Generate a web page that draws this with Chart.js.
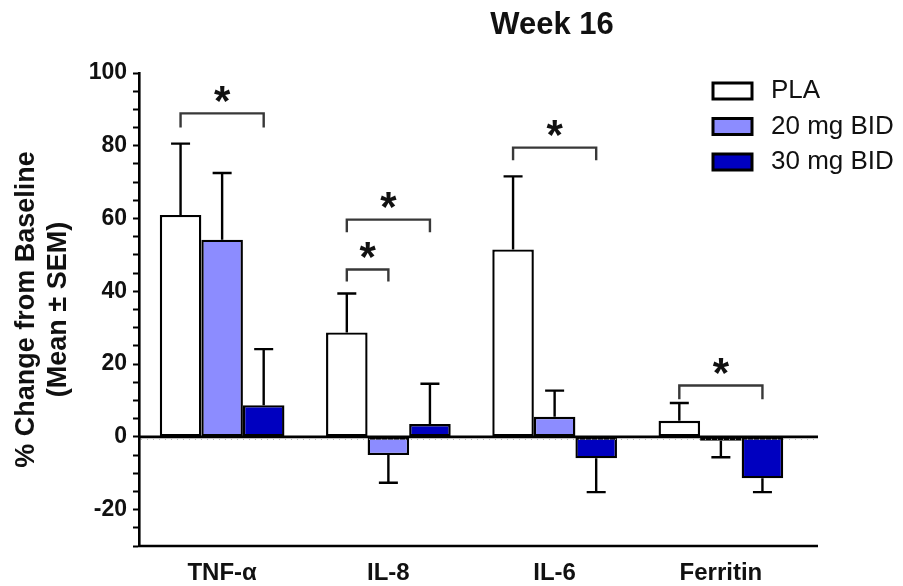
<!DOCTYPE html>
<html>
<head>
<meta charset="utf-8">
<script src="https://cdn.jsdelivr.net/npm/chart.js@4.4.1/dist/chart.umd.min.js"></script>
<style>
html,body{margin:0;padding:0;background:#fff}
#wrap{width:903px;height:586px}
</style>
</head>
<body>
<div id="wrap"><canvas id="c" width="903" height="586"></canvas></div>
<script>
const categories=["TNF-α","IL-8","IL-6","Ferritin"];
const groups=["PLA","20 mg BID","30 mg BID"];
const groupColors=["#ffffff","#8c8cff","#0000c0"];
const plaMean=[61.0,28.7,51.5,4.4];
const plaSem=[19.6,10.7,20.1,4.9];
const mg20Mean=[54.2,-5.0,5.5,-1.1];
const mg20Sem=[18.3,7.6,7.2,4.5];
const mg30Mean=[8.7,3.5,-5.9,-11.4];
const mg30Sem=[15.4,11.1,9.3,3.8];
const yTickLabels=[-20,0,20,40,60,80,100];
const chartTitle="Week 16";
const yTitle=["% Change from Baseline","(Mean ± SEM)"];

// significance brackets: category, group pair, bracket level, leg end (data units)
const sigCat=[0,1,1,2,3];
const sigFrom=[0,0,0,0,0];
const sigTo=[2,2,1,2,2];
const sigTop=[88.9,59.7,46.0,79.5,14.1];
const sigLeg=[85.0,56.2,42.7,76.0,10.3];

const means=[plaMean,mg20Mean,mg30Mean];
const sems=[plaSem,mg20Sem,mg30Sem];
const FONT="'Liberation Sans', Arial, sans-serif";

const extras={
  id:"extras",
  afterDatasetsDraw(chart){
    const {ctx,chartArea:a,scales:{y}}=chart;
    ctx.save();
    ctx.strokeStyle="#000"; ctx.lineCap="butt";

    // error bars (one-sided, away from zero)
    ctx.lineWidth=2.4;
    means.forEach((m,i)=>{
      const meta=chart.getDatasetMeta(i);
      m.forEach((v,j)=>{
        const bx=meta.data[j].x;
        const end=v<0? v-sems[i][j] : v+sems[i][j];
        const y0=y.getPixelForValue(v), y1=y.getPixelForValue(end);
        ctx.beginPath();
        ctx.moveTo(bx,y0); ctx.lineTo(bx,y1);
        ctx.moveTo(bx-9.5,y1); ctx.lineTo(bx+9.5,y1);
        ctx.stroke();
      });
    });

    // zero line and bottom axis, running a little past the last group
    const yz=y.getPixelForValue(0);
    ctx.lineWidth=2.6;
    ctx.beginPath();
    ctx.moveTo(a.left,yz); ctx.lineTo(a.right+14,yz);
    ctx.moveTo(a.left-1,a.bottom); ctx.lineTo(a.right+14,a.bottom);
    ctx.stroke();
    ctx.strokeStyle="#b0b0b0"; ctx.lineWidth=1; ctx.setLineDash([1,5]);
    ctx.beginPath(); ctx.moveTo(a.left+2,yz+2.5); ctx.lineTo(a.right+14,yz+2.5); ctx.stroke();
    ctx.setLineDash([]);

    // significance brackets with stars
    ctx.strokeStyle="#383838"; ctx.lineWidth=2.4;
    ctx.fillStyle="#111"; ctx.font="bold 42px "+FONT;
    ctx.textAlign="center"; ctx.textBaseline="middle";
    sigCat.forEach((c,k)=>{
      const x1=chart.getDatasetMeta(sigFrom[k]).data[c].x;
      const x2=chart.getDatasetMeta(sigTo[k]).data[c].x;
      const yt=y.getPixelForValue(sigTop[k]), yl=y.getPixelForValue(sigLeg[k]);
      ctx.beginPath();
      ctx.moveTo(x1,yl); ctx.lineTo(x1,yt); ctx.lineTo(x2,yt); ctx.lineTo(x2,yl);
      ctx.stroke();
      ctx.fillText("*",(x1+x2)/2,yt-10);
    });

    // title
    ctx.font="bold 31px "+FONT; ctx.fillStyle="#111";
    ctx.fillText(chartTitle,552,25);

    // legend
    ctx.textAlign="left";
    ctx.font="26px "+FONT;
    groups.forEach((g,i)=>{
      const by=83+i*35.5;
      ctx.fillStyle=groupColors[i];
      ctx.fillRect(713,by,39,16);
      ctx.strokeStyle="#000"; ctx.lineWidth=3;
      ctx.strokeRect(713,by,39,16);
      ctx.fillStyle="#111";
      ctx.fillText(g,771,by+8);
    });
    ctx.restore();
  }
};

new Chart(document.getElementById("c"),{
  type:"bar",
  data:{
    labels:categories,
    datasets:groups.map((g,i)=>({
      label:g,
      data:means[i],
      backgroundColor:groupColors[i],
      borderColor:"#000",
      borderWidth:2.4,
      borderSkipped:false,
      inflateAmount:0
    }))
  },
  options:{
    responsive:false,
    animation:false,
    events:[],
    layout:{padding:{top:73,right:99,left:0,bottom:0}},
    datasets:{bar:{categoryPercentage:0.75,barPercentage:1.0}},
    plugins:{legend:{display:false},tooltip:{enabled:false}},
    scales:{
      x:{
        grid:{display:false},
        border:{display:false},
        ticks:{color:"#111",font:{family:FONT,size:24,weight:"bold"},padding:5},
        afterFit(s){ s.height=40; }
      },
      y:{
        min:-30,max:100,
        border:{display:true,color:"#000",width:2.6},
        grid:{drawOnChartArea:false,drawTicks:true,tickLength:6,tickColor:"#000",tickWidth:2},
        ticks:{
          stepSize:5,autoSkip:false,padding:6,color:"#111",
          font:{family:FONT,size:23,weight:"bold"},
          callback:(v)=>yTickLabels.includes(v)? String(v) : ""
        },
        title:{display:true,text:yTitle,color:"#111",
          font:{family:FONT,size:27,weight:"bold",lineHeight:1.2},padding:{top:10,bottom:0}},
        afterFit(s){ s.width=139; }
      }
    }
  },
  plugins:[extras]
});
</script>
</body>
</html>
